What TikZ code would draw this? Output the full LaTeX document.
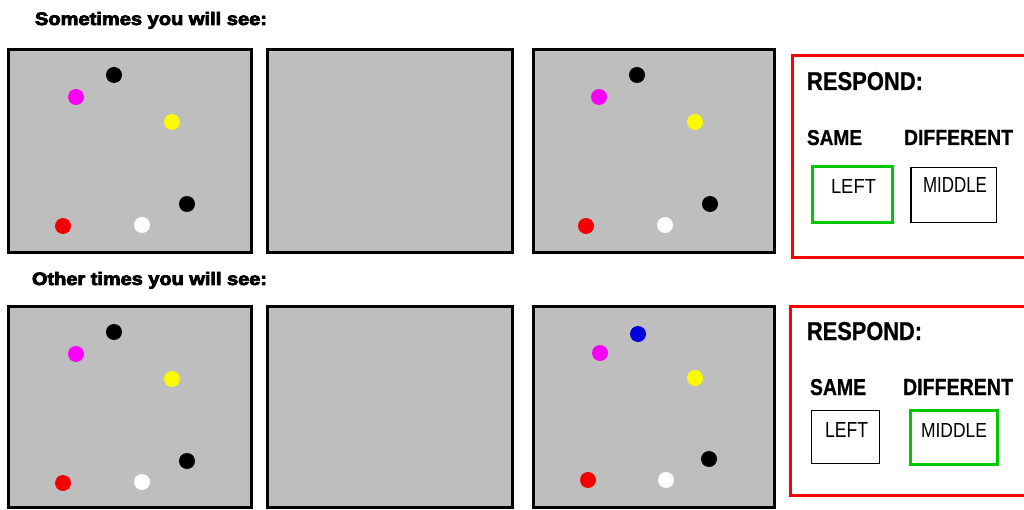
\documentclass[tikz,border=0pt]{standalone}
\usepackage{fontspec}
\usepackage{graphicx}
\setmainfont{Liberation Sans}
\newfontfamily\heavyfont[FakeBold=4]{Liberation Sans Bold}
\newfontfamily\labelfont[FakeBold=0.8]{Liberation Sans Bold}
\definecolor{panelgray}{RGB}{190,190,190}
\definecolor{respred}{RGB}{255,0,0}
\definecolor{okgreen}{RGB}{0,200,0}
\definecolor{dotmag}{RGB}{250,0,250}
\definecolor{dotyel}{RGB}{250,250,0}
\definecolor{dotblue}{RGB}{0,0,225}
\definecolor{dotred}{RGB}{245,0,0}
\newcommand{\fitbox}[3]{\resizebox{#1pt}{#2pt}{#3}}
\begin{document}
\begin{tikzpicture}[x=1pt,y=-1pt,
  panel/.style={draw=black, line width=3pt, fill=panelgray},
  redframe/.style={draw=respred, line width=3pt},
  greenbox/.style={draw=okgreen, line width=3pt},
  blackbox/.style={draw=black, line width=1.4pt},
  txt/.style={anchor=base west, inner sep=0pt, outer sep=0pt}]
\useasboundingbox (0,0) rectangle (1024,510);
\clip (0,0) rectangle (1024,510);
\fill[white] (0,0) rectangle (1024,510);

\newcommand{\dotsfive}[1]{%
  \fill[black] (114,75) circle (8);
  \fill[dotmag] (76,97) circle (8);
  \fill[dotyel] (172,122) circle (8);
  \fill[black] (187,204) circle (8);
  \fill[dotred] (63,226) circle (8);
  \fill[white] (142,225) circle (8);}

% top row
\draw[panel] (8.7,49.5) rectangle (251.3,253);
\draw[panel] (267,49.5) rectangle (512.5,253);
\draw[panel] (533,49.5) rectangle (774,253);
\dotsfive{}
\begin{scope}[shift={(523,0)}]
  \dotsfive{}
\end{scope}

% bottom row
\draw[panel] (8.7,306.5) rectangle (251.3,507.5);
\draw[panel] (267,306.5) rectangle (512.5,507.5);
\draw[panel] (533,306.5) rectangle (774,507.5);
\begin{scope}[shift={(0,257)}]
  \dotsfive{}
\end{scope}
\begin{scope}[shift={(524,255)}]
  \fill[dotblue] (114,79) circle (8);
  \fill[dotmag] (76,98) circle (8);
  \fill[dotyel] (171,123) circle (8);
  \fill[black] (185,204) circle (8);
  \fill[dotred] (64,225) circle (8);
  \fill[white] (142,225) circle (8);
\end{scope}

% headings
\node[txt] (h1) at (35,25) {\fitbox{232}{13}{\heavyfont Sometimes you will see:}};
\node[txt] (h2) at (32,285) {\fitbox{235}{13}{\heavyfont Other times you will see:}};

% response frames
\draw[redframe] (792.5,56) rectangle (1030,257.5);
\draw[redframe] (790.5,306.5) rectangle (1030,495.5);

% top response
\node[txt] (r1) at (807,90) {\fitbox{116}{18}{\labelfont RESPOND:}};
\node[txt] (s1) at (807,145) {\fitbox{55}{15}{\labelfont SAME}};
\node[txt] (df1) at (904,145) {\fitbox{109}{15}{\labelfont DIFFERENT}};
\draw[greenbox] (812.5,166.5) rectangle (892.5,222.5);
\draw[blackbox] (911,167.5) rectangle (996.5,222.5);
\node[txt] (l1) at (831,194) {\fitbox{45}{14}{LEFT}};
\node[txt] (m1) at (923,193) {\fitbox{64}{15}{MIDDLE}};

% bottom response
\node[txt] (r2) at (807,340) {\fitbox{115}{18}{\labelfont RESPOND:}};
\node[txt] (s2) at (810,395) {\fitbox{56}{16}{\labelfont SAME}};
\node[txt] (df2) at (903,395) {\fitbox{110}{16}{\labelfont DIFFERENT}};
\draw[blackbox] (811.5,410.5) rectangle (879.5,463.5);
\draw[greenbox] (910,410.5) rectangle (997,464);
\node[txt] (l2) at (825,437) {\fitbox{43}{15}{LEFT}};
\node[txt] (m2) at (921,437) {\fitbox{66}{14}{MIDDLE}};
\end{tikzpicture}
\end{document}
